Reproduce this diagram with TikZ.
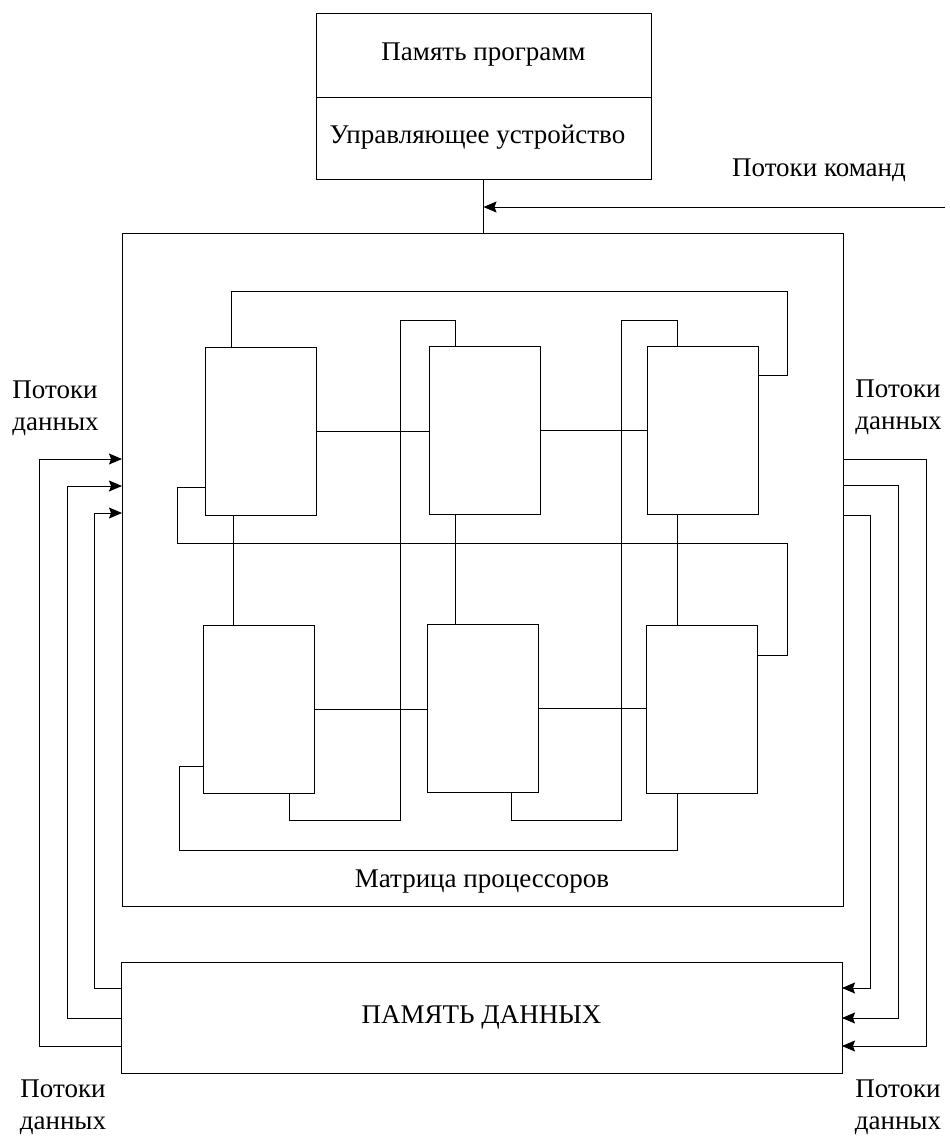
\documentclass[tikz,border=0pt]{standalone}
\usepackage{fontspec}
\setmainfont{Liberation Serif}
\newfontfamily\tnrfont{Liberation Serif}
\usetikzlibrary{arrows.meta}
\begin{document}
\begin{tikzpicture}[x=1pt,y=-1pt, line width=0.9pt,
 txt/.style={font=\tnrfont\fontsize{27}{32}\selectfont},
 box/.style={draw, inner sep=0pt, outer sep=0pt, txt},
 proc/.style={box, minimum width=111pt, minimum height=168pt},
 lbl/.style={txt, inner sep=0pt},
 arr/.style={-{Stealth[length=13pt,width=11pt,inset=2pt]}}]
\useasboundingbox[fill=white] (0,0) rectangle (950,1136);

% control unit
\node[box, minimum width=335pt, minimum height=84pt] (pm) at (483.5,55) {Память программ};
\node[box, minimum width=335pt, minimum height=82pt] (uu) at (483.5,138) {};
\node[lbl] (uul) at (477.5,137) {Управляющее устройство};

% matrix frame and memory
\node[box, minimum width=721pt, minimum height=673pt] (mat) at (482.5,569.5) {};
\node[lbl] (matl) at (482,882) {Матрица процессоров};
\node[box, minimum width=721pt, minimum height=111pt] (mem) at (481.5,1017.5) {ПАМЯТЬ ДАННЫХ};

% processors
\node[proc] (p11) at (260.5,431) {};
\node[proc] (p12) at (484.5,430) {};
\node[proc] (p13) at (702.5,430) {};
\node[proc] (p21) at (259,709) {};
\node[proc] (p22) at (483,708) {};
\node[proc] (p23) at (701.5,709) {};

% labels
\node[lbl] (cmdl) at (819,170) {Потоки команд};
\node[lbl, align=left, anchor=west] (dl1) at (12,408) {Потоки\\данных};
\node[lbl, align=left, anchor=west] (dl2) at (855,407) {Потоки\\данных};
\node[lbl, align=center] (dl3) at (63,1107) {Потоки\\данных};
\node[lbl, align=center] (dl4) at (898,1107) {Потоки\\данных};

% command flow
\coordinate (cmd) at (945,207);
\draw (uu.south) -- (uu.south |- mat.north);
\draw[arr] (cmd) -- (cmd -| uu.south);

% left data flows (memory -> matrix)
\draw[arr] (mem.west |- 0,1046) -| (39,459) -- (mat.west |- 0,459);
\draw[arr] (mem.west |- 0,1018) -| (67,486) -- (mat.west |- 0,486);
\draw[arr] (mem.west |- 0,988) -| (94,513) -- (mat.west |- 0,513);

% right data flows (matrix -> memory)
\draw[arr] (mat.east |- 0,459) -| (926,1046) -- (mem.east |- 0,1046);
\draw[arr] (mat.east |- 0,485) -| (898,1018) -- (mem.east |- 0,1018);
\draw[arr] (mat.east |- 0,515) -| (870,988) -- (mem.east |- 0,988);

% horizontal links
\draw (p11.east) -- (p11.east -| p12.west);
\draw (p12.east) -- (p12.east -| p13.west);
\draw (p21.east) -- (p21.east -| p22.west);
\draw (p22.east) -- (p22.east -| p23.west);

% vertical links
\draw (p11.south -| 233,0) -- (p21.north -| 233,0);
\draw (p12.south -| 455,0) -- (p22.north -| 455,0);
\draw (p13.south -| 677,0) -- (p23.north -| 677,0);

% wrap-around loops
\draw (p11.north -| 231,0) |- (787,291) |- (p13.east |- 0,375);
\draw (p11.west |- 0,487) -| (177,543) -| (787,655) -- (p23.east |- 0,655);
\draw (p21.west |- 0,766) -| (179,850) -| (p23.south -| 677,0);
\draw (p12.north -| 455,0) |- (400,320) |- (289,820) -- (p21.south -| 289,0);
\draw (p13.north -| 677,0) |- (621,320) |- (511,820) -- (p22.south -| 511,0);
\end{tikzpicture}
\end{document}
